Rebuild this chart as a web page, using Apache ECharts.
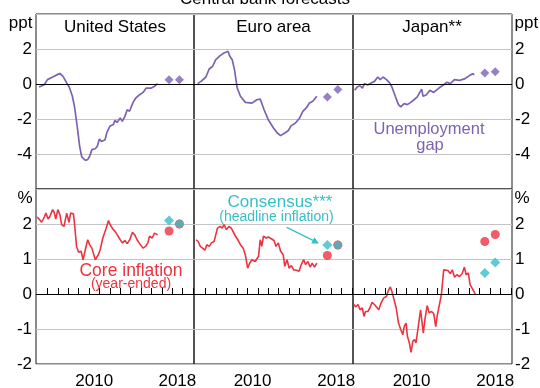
<!DOCTYPE html>
<html><head><meta charset="utf-8">
<script src="https://cdn.jsdelivr.net/npm/echarts@6/dist/echarts.min.js"></script>
<style>html,body{margin:0;padding:0;background:#fff}#c{width:540px;height:388px}</style>
</head><body><div id="c"></div>
<script>
// ---------- DATA ----------
const panelTitles = ['United States', 'Euro area', 'Japan**'];
const topTicks = [-6, -4, -2, 0, 2, 4];
const botTicks = [-2, -1, 0, 1, 2, 3];
const yearTicks = [2006,2007,2008,2009,2010,2011,2012,2013,2014,2015,2016,2017,2018,2019,2020];
const yearLabels = [2010.5, 2018.5];

// Unemployment gap (ppt)
const usGap = [[2005.2,-0.17],[2005.7,-0.04],[2006.0,0.25],[2006.5,0.4],[2007.0,0.55],[2007.2,0.6],[2007.5,0.44],[2007.85,0.06],[2008.1,-0.17],[2008.4,-0.7],[2008.6,-1.28],[2008.86,-2.4],[2009.1,-3.56],[2009.3,-4.17],[2009.65,-4.36],[2009.87,-4.32],[2010.06,-4.13],[2010.28,-3.75],[2010.6,-3.7],[2010.8,-3.56],[2011.0,-3.14],[2011.2,-3.28],[2011.55,-3.18],[2011.7,-2.8],[2012.0,-2.42],[2012.34,-2.32],[2012.5,-2.08],[2012.7,-2.2],[2013.0,-1.94],[2013.2,-2.13],[2013.45,-1.85],[2013.67,-1.47],[2013.9,-1.56],[2014.24,-1.05],[2014.5,-0.8],[2014.87,-0.61],[2015.2,-0.48],[2015.5,-0.23],[2016.0,-0.23],[2016.3,-0.13],[2016.6,0.02]];
const euGap = [[2005.25,0.02],[2005.57,0.15],[2006.04,0.4],[2006.35,0.86],[2006.67,1.0],[2006.98,1.39],[2007.4,1.62],[2007.77,1.77],[2008.15,1.87],[2008.33,1.58],[2008.55,1.39],[2008.77,0.82],[2009.03,-0.23],[2009.34,-0.7],[2009.81,-1.05],[2010.44,-1.09],[2010.9,-0.9],[2011.23,-0.86],[2011.6,-1.47],[2012.0,-2.04],[2012.5,-2.51],[2012.86,-2.8],[2013.18,-2.95],[2013.58,-2.8],[2013.9,-2.67],[2014.2,-2.38],[2014.6,-2.23],[2015.0,-1.94],[2015.3,-1.56],[2015.63,-1.37],[2015.94,-1.09],[2016.26,-0.99],[2016.64,-0.7]];
const jpGap = [[2005.06,-0.36],[2005.3,-0.17],[2005.57,-0.1],[2005.8,-0.23],[2006.0,0.02],[2006.3,-0.06],[2006.64,0.06],[2006.95,0.15],[2007.27,0.4],[2007.5,0.25],[2007.77,0.4],[2008.1,0.25],[2008.4,0.06],[2008.62,-0.17],[2008.94,-0.7],[2009.25,-1.18],[2009.47,-1.31],[2009.79,-1.12],[2010.1,-1.18],[2010.42,-1.05],[2010.73,-0.9],[2011.05,-0.74],[2011.24,-0.8],[2011.46,-0.29],[2011.6,-0.7],[2011.93,-0.61],[2012.25,-0.36],[2012.62,-0.48],[2012.94,-0.32],[2013.25,-0.17],[2013.57,-0.04],[2013.88,0.1],[2014.2,0.02],[2014.6,0.25],[2015.08,0.21],[2015.55,0.29],[2016.03,0.48],[2016.34,0.59],[2016.5,0.53]];

// Central bank forecasts of unemployment gap
const usGapFc = [[2017.7,0.25],[2018.7,0.25]];
const euGapFc = [[2017.65,-0.74],[2018.65,-0.32]];
const jpGapFc = [[2017.5,0.63],[2018.5,0.7]];

// Core inflation (year-ended, %)
const usCore = [[2005.0,2.2],[2005.2,2.14],[2005.44,2.05],[2005.7,2.2],[2005.85,2.31],[2006.08,2.14],[2006.27,2.24],[2006.5,2.41],[2006.65,2.33],[2006.8,2.14],[2007.0,2.41],[2007.2,2.26],[2007.37,1.98],[2007.6,1.93],[2007.85,2.31],[2008.07,2.05],[2008.23,2.31],[2008.5,2.29],[2008.6,2.03],[2008.8,1.36],[2009.0,1.19],[2009.24,1.22],[2009.43,0.98],[2009.65,1.27],[2009.87,1.55],[2010.06,1.41],[2010.28,1.31],[2010.44,1.36],[2010.6,0.98],[2010.76,0.96],[2010.9,1.12],[2011.08,1.27],[2011.33,1.6],[2011.65,1.88],[2011.87,2.1],[2012.0,2.0],[2012.28,1.86],[2012.5,1.79],[2012.72,1.69],[2013.0,1.55],[2013.23,1.46],[2013.45,1.53],[2013.67,1.44],[2013.92,1.55],[2014.18,1.76],[2014.4,1.69],[2014.62,1.55],[2014.87,1.44],[2015.19,1.31],[2015.44,1.36],[2015.66,1.46],[2015.82,1.65],[2016.08,1.6],[2016.3,1.74],[2016.6,1.69]];
const euCore = [[2005.1,1.55],[2005.3,1.5],[2005.5,1.36],[2005.72,1.31],[2005.94,1.25],[2006.13,1.41],[2006.35,1.36],[2006.57,1.46],[2006.82,1.5],[2006.98,1.69],[2007.14,1.88],[2007.4,1.93],[2007.6,1.88],[2007.77,1.98],[2008.0,1.84],[2008.24,1.93],[2008.46,1.88],[2008.65,1.93],[2008.87,1.65],[2009.09,1.55],[2009.34,1.41],[2009.6,1.31],[2009.81,1.12],[2010.03,0.74],[2010.22,0.88],[2010.44,0.98],[2010.75,0.93],[2011.07,1.08],[2011.23,1.55],[2011.38,1.36],[2011.54,1.65],[2011.8,1.6],[2012.0,1.63],[2012.33,1.57],[2012.55,1.53],[2012.74,1.36],[2012.96,1.46],[2013.18,1.22],[2013.43,1.12],[2013.58,0.79],[2013.8,0.98],[2013.99,0.74],[2014.2,0.81],[2014.43,0.69],[2014.69,0.68],[2014.94,0.65],[2015.16,0.84],[2015.38,0.98],[2015.57,0.84],[2015.79,0.93],[2016.0,0.77],[2016.2,0.88],[2016.42,0.77],[2016.64,0.88]];
const jpCore = [[2005.0,-0.3],[2005.16,-0.37],[2005.38,-0.3],[2005.57,-0.45],[2005.79,-0.4],[2005.95,-0.64],[2006.1,-0.5],[2006.32,-0.5],[2006.51,-0.4],[2006.73,-0.24],[2006.95,-0.3],[2007.14,-0.26],[2007.36,-0.45],[2007.58,-0.26],[2007.84,-0.11],[2008.09,-0.07],[2008.31,0.12],[2008.47,0.2],[2008.62,0.07],[2008.78,-0.11],[2009.03,-0.4],[2009.25,-0.83],[2009.47,-1.02],[2009.66,-1.16],[2009.79,-0.93],[2009.98,-0.83],[2010.1,-1.21],[2010.29,-1.4],[2010.45,-1.67],[2010.61,-1.36],[2010.77,-1.3],[2010.92,-1.4],[2011.14,-0.93],[2011.36,-0.45],[2011.52,-0.4],[2011.62,-1.12],[2011.77,-0.74],[2011.99,-0.33],[2012.18,-0.54],[2012.4,-0.5],[2012.62,-0.56],[2012.81,-0.93],[2012.94,-0.64],[2013.13,-0.35],[2013.35,-0.02],[2013.57,0.69],[2013.76,0.65],[2013.98,0.67],[2014.2,0.58],[2014.39,0.69],[2014.61,0.48],[2014.83,0.55],[2015.08,0.5],[2015.33,0.58],[2015.55,0.77],[2015.71,0.55],[2015.93,0.6],[2016.09,0.27],[2016.28,0.17],[2016.4,0.17],[2016.59,0.0]];

// Central bank inflation forecasts (circles) and Consensus headline (diamonds)
const usCoreFc = [[2017.7,1.8],[2018.7,2.0]];
const euCoreFc = [[2017.65,1.1],[2018.65,1.4]];
const jpCoreFc = [[2017.5,1.5],[2018.5,1.7]];
const usCons = [[2017.7,2.1],[2018.7,2.0]];
const euCons = [[2017.65,1.4],[2018.65,1.4]];
const jpCons = [[2017.5,0.6],[2018.5,0.9]];

// ---------- STYLE ----------
const FONT = 'Arial, "Liberation Sans", sans-serif';
const PURPLE = '#7d62b3', RED = '#ee3340', TEAL = '#36bfc9';
const panelsX = [[36,158],[194,159],[353,159]];
const rowsY = [[14,175],[189,175]];

const grids = [], xAxes = [], yAxes = [], series = [];
const gapData = [usGap, euGap, jpGap], gapFc = [usGapFc, euGapFc, jpGapFc];
const coreData = [usCore, euCore, jpCore], coreFc = [usCoreFc, euCoreFc, jpCoreFc], cons = [usCons, euCons, jpCons];

const zeroLine = {silent:true, symbol:['none','none'], label:{show:false}, animation:false,
  lineStyle:{color:'#000', type:'solid', width:1}, data:[{yAxis:0}]};

for (let r = 0; r < 2; r++) {
  for (let p = 0; p < 3; p++) {
    const idx = grids.length;
    grids.push({left:panelsX[p][0], top:rowsY[r][0], width:panelsX[p][1], height:rowsY[r][1],
      outerBoundsMode:'none', containLabel:false,
      show:true, borderColor:'#1a1a1a', borderWidth:1, backgroundColor:'transparent'});
    xAxes.push({type:'value', gridIndex:idx, min:2004.9, max:2020.1,
      axisLine:{show:false}, splitLine:{show:false},
      axisTick:{show:r===1, inside:true, length:6, customValues:yearTicks, lineStyle:{color:'#000', width:1}},
      axisLabel:{show:r===1, customValues:yearLabels, formatter:v=>String(Math.floor(v)),
        fontSize:17, fontFamily:FONT, color:'#000', margin:9}});
    const ticks = r === 0 ? topTicks : botTicks;
    const showLab = p !== 1;
    yAxes.push({type:'value', gridIndex:idx, min:ticks[0], max:ticks[ticks.length-1], interval:r===0?2:1,
      position: p === 2 ? 'right' : 'left',
      axisLine:{show:false}, axisTick:{show:false},
      splitLine:{show:true, lineStyle:{color:'#c4c4c4', width:1}},
      axisLabel:{show:showLab, fontSize:17, fontFamily:FONT, color:'#000', margin:p===2?3:4,
        formatter:v => (v === ticks[ticks.length-1] || (r===0 && v===ticks[0])) ? '' : String(v)}});
    if (r === 0) {
      series.push({type:'line', xAxisIndex:idx, yAxisIndex:idx, data:gapData[p], showSymbol:false,
        lineStyle:{color:PURPLE, width:1.7}, markLine:zeroLine, z:3});
      series.push({type:'scatter', xAxisIndex:idx, yAxisIndex:idx, data:gapFc[p], symbol:'diamond',
        symbolSize:9, itemStyle:{color:PURPLE}, z:4});
    } else {
      series.push({type:'line', xAxisIndex:idx, yAxisIndex:idx, data:coreData[p], showSymbol:false,
        lineStyle:{color:RED, width:1.6}, markLine:zeroLine, z:3});
      series.push({type:'scatter', xAxisIndex:idx, yAxisIndex:idx, data:coreFc[p], symbol:'circle',
        symbolSize:9, itemStyle:{color:RED}, z:4});
      series.push({type:'scatter', xAxisIndex:idx, yAxisIndex:idx, data:cons[p], symbol:'diamond',
        symbolSize:10, itemStyle:{color:TEAL}, z:5});
    }
  }
}

function txt(x, y, text, size, color, align) {
  return {type:'text', x:x, y:y, silent:true, z:10,
    style:{text:text, fill:color, fontSize:size, fontFamily:FONT, align:align||'center', verticalAlign:'middle'}};
}
// arrow geometry
const a0 = [286.7,227.3], a1 = [319,243.6];
const graphics = [
  txt(265, -1, 'Central bank forecasts', 17, '#000'),
  txt(115, 27.5, panelTitles[0], 17, '#000'),
  txt(273.5, 27.5, panelTitles[1], 17, '#000'),
  txt(432, 27.5, panelTitles[2], 17, '#000'),
  txt(32.5, 23, 'ppt', 17, '#000', 'right'),
  txt(514.5, 23, 'ppt', 17, '#000', 'left'),
  txt(32.5, 198, '%', 17, '#000', 'right'),
  txt(514.5, 198, '%', 17, '#000', 'left'),
  txt(429, 129.5, 'Unemployment', 16.5, PURPLE),
  txt(430, 145.5, 'gap', 16.5, PURPLE),
  txt(131, 271.5, 'Core inflation', 17.5, RED),
  txt(131, 284.5, '(year-ended)', 14, RED),
  txt(280, 202, 'Consensus***', 17, TEAL),
  txt(276.5, 217, '(headline inflation)', 14, TEAL),
  {type:'polyline', silent:true, z:10, shape:{points:[a0,[313,240.4]]}, style:{stroke:TEAL, lineWidth:1.3, fill:null}},
  {type:'polygon', silent:true, z:10, shape:{points:[a1,[311.2,243.5],[314.4,237.2]]}, style:{fill:TEAL}}
];

const chart = echarts.init(document.getElementById('c'), null, {renderer:'canvas'});
chart.setOption({animation:false, backgroundColor:'#fff', grid:grids, xAxis:xAxes, yAxis:yAxes, series:series, graphic:graphics});
</script>
</body></html>
